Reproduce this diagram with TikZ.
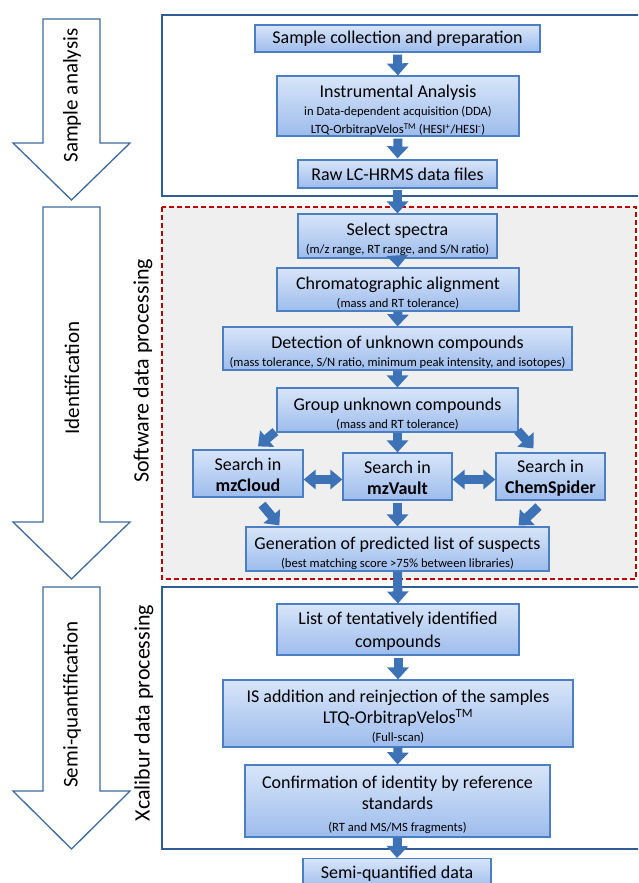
\documentclass[tikz,border=0pt]{standalone}
\usepackage{fontspec}
\setmainfont{Carlito}
\usetikzlibrary{arrows.meta,shadows,calc}
\definecolor{boxtop}{HTML}{D8E5F9}
\definecolor{boxbot}{HTML}{9DBCEC}
\definecolor{boxedge}{HTML}{4A80C3}
\definecolor{arrowblue}{HTML}{3D72B6}
\definecolor{framecol}{HTML}{2E5E95}
\definecolor{bigarrow}{HTML}{3D6B9E}
\definecolor{dashred}{HTML}{C00000}
\definecolor{panelgray}{HTML}{EFEFEF}
\newcommand{\smalltxt}{\fontsize{12.6}{15}\selectfont}
\newcommand{\tstrut}[1]{\rule{0pt}{#1}}
\tikzset{
  stepbox/.style={draw=boxedge, line width=1.2pt, top color=boxtop, bottom color=boxbot,
    align=center, inner sep=0pt, text=black, font=\fontsize{18}{21}\selectfont,
    drop shadow={shadow xshift=1.2pt, shadow yshift=-1.2pt, opacity=0.25, fill=black}},
  flowarrow/.style={draw=arrowblue, line width=9pt, -{Triangle[width=21pt,length=12pt]}},
  twowayarrow/.style={draw=arrowblue, line width=9pt, {Triangle[width=19pt,length=12pt]}-{Triangle[width=19pt,length=12pt]}},
  bigstage/.style={draw=bigarrow, line width=1.3pt, fill=white, line join=miter},
  stagelabel/.style={rotate=90, font=\fontsize{21}{24}\selectfont, text=black},
  framelabel/.style={rotate=90, font=\fontsize{22}{25}\selectfont, text=black},
  frame/.style={draw=framecol, line width=1.5pt},
}
\begin{document}
\begin{tikzpicture}[x=1pt,y=-1pt]
\useasboundingbox (0,0) rectangle (638,883);
\clip (0,0) rectangle (638,883);
\fill[white] (0,0) rectangle (638,883);

% frames
\draw[frame] (162,15) rectangle (650,196);
\draw[draw=dashred, line width=1.5pt, fill=panelgray, dash pattern=on 5pt off 3pt] (162,207) rectangle (636,579);
\draw[frame] (162,587) rectangle (650,849);

% left stage arrows
\draw[bigstage] (43,19) -- (100,19) -- (100,143) -- (130,143) -- (71.5,200) -- (13,143) -- (43,143) -- cycle;
\draw[bigstage] (43,207) -- (100,207) -- (100,522) -- (130,522) -- (71.5,579) -- (13,522) -- (43,522) -- cycle;
\draw[bigstage] (43,587) -- (100,587) -- (100,791) -- (130,791) -- (71.5,849) -- (13,791) -- (43,791) -- cycle;
\node[stagelabel] (lblsample) at (72,95.5) {Sample analysis};
\node[stagelabel] (lblident) at (72,378) {Identification};
\node[stagelabel] (lblsemi) at (72,704.5) {Semi-quantification};
\node[framelabel] (lblsoft) at (143,371) {Software data processing};
\node[framelabel] (lblxcal) at (144,713) {Xcalibur data processing};

% step boxes
\node[stepbox, minimum width=285pt, minimum height=27pt] (sample) at (397.5,38.5) {Sample collection and preparation};
\node[stepbox, minimum width=242pt, minimum height=58pt] (instr) at (398,106)
  {\tstrut{22pt}Instrumental Analysis\\[-3pt]{\smalltxt in Data-dependent acquisition (DDA)}\\[-3pt]
   {\smalltxt LTQ-OrbitrapVelos\textsuperscript{TM} (HESI\textsuperscript{+}/HESI\textsuperscript{-})}};
\node[stepbox, minimum width=199pt, minimum height=28pt] (raw) at (397.5,174) {Raw LC-HRMS data files};
\node[stepbox, minimum width=199pt, minimum height=44pt] (select) at (397.5,236)
  {\tstrut{20pt}Select spectra\\[-3pt]{\smalltxt (m/z range, RT range, and S/N ratio)}};
\node[stepbox, minimum width=242pt, minimum height=43pt] (chrom) at (398,289.5)
  {\tstrut{20pt}Chromatographic alignment\\[-3pt]{\smalltxt (mass and RT tolerance)}};
\node[stepbox, minimum width=349pt, minimum height=43pt] (detect) at (397.5,348.5)
  {\tstrut{20pt}Detection of unknown compounds\\[-3pt]{\smalltxt (mass tolerance, S/N ratio, minimum peak intensity, and isotopes)}};
\node[stepbox, minimum width=241pt, minimum height=44pt] (group) at (397.5,410)
  {\tstrut{20pt}Group unknown compounds\\[-3pt]{\smalltxt (mass and RT tolerance)}};
\node[stepbox, minimum width=110pt, minimum height=47pt] (cloud) at (248,473.5)
  {\tstrut{16pt}Search in\\[0pt]\textbf{mzCloud}};
\node[stepbox, minimum width=109pt, minimum height=47pt] (vault) at (397.5,476.5)
  {\tstrut{16pt}Search in\\[0pt]\textbf{mzVault}};
\node[stepbox, minimum width=109pt, minimum height=47pt] (chem) at (550.5,476.5)
  {\tstrut{16pt}Search in\\[0pt]\textbf{ChemSpider}};
\node[stepbox, minimum width=303pt, minimum height=44pt] (gen) at (397.5,549)
  {\tstrut{20.5pt}Generation of predicted list of suspects\\[-3pt]{\smalltxt (best matching score >75\% between libraries)}};
\node[stepbox, minimum width=242pt, minimum height=51pt] (list) at (398,629.5)
  {\tstrut{15pt}List of tentatively identified\\[2pt]compounds};
\node[stepbox, minimum width=350pt, minimum height=67pt] (isadd) at (398,713.5)
  {\tstrut{19.5pt}IS addition and reinjection of the samples\\LTQ-OrbitrapVelos\textsuperscript{TM}\\[-3pt]{\smalltxt (Full-scan)}};
\node[stepbox, minimum width=305pt, minimum height=72pt] (confirm) at (397.5,801)
  {\tstrut{19.5pt}Confirmation of identity by reference\\standards\\[1pt]{\smalltxt (RT and MS/MS fragments)}};
\node[stepbox, minimum width=188pt, minimum height=30pt, anchor=north] (semi) at (397,858)
  {Semi-quantified data};

% vertical flow arrows
\draw[flowarrow] ($(sample.south)+(0,2)$) -- (instr.north);
\draw[flowarrow] ($(instr.south)+(0,2)$) -- ($(raw.north)+(0,-1)$);
\draw[flowarrow] ($(raw.south)+(0,1)$) -- (select.north);
\draw[flowarrow] (select.south) -- (chrom.north);
\draw[flowarrow] (chrom.south) -- (detect.north);
\draw[flowarrow] (detect.south) -- (group.north);
\draw[flowarrow] (group.south) -- (vault.north);
\draw[flowarrow] ($(vault.south)+(0,2)$) -- (gen.north);
\draw[flowarrow] (gen.south) -- (list.north);
\draw[flowarrow] ($(list.south)+(0,2)$) -- (isadd.north);
\draw[flowarrow] (isadd.south) -- (confirm.north);
\draw[flowarrow] (confirm.south) -- (semi.north);

% diagonal arrows
\draw[flowarrow] ($(group.south west)+(-1,-1)$) -- ($(cloud.north)+(10,-3)$);
\draw[flowarrow] ($(group.south east)+(-1,-2)$) -- ($(chem.north)+(-17,-4)$);
\draw[flowarrow] ($(cloud.south)+(14,7)$) -- ($(gen.north west)+(34,-1)$);
\draw[flowarrow] ($(chem.south)+(-12,6)$) -- ($(gen.north east)+(-31,-1)$);

% two-way arrows
\draw[twowayarrow] ($(cloud.east |- vault.center)+(0,3)$) -- ($(vault.west)+(0,3)$);
\draw[twowayarrow] ($(vault.east)+(0,3)$) -- ($(chem.west)+(0,3)$);
\end{tikzpicture}
\end{document}
